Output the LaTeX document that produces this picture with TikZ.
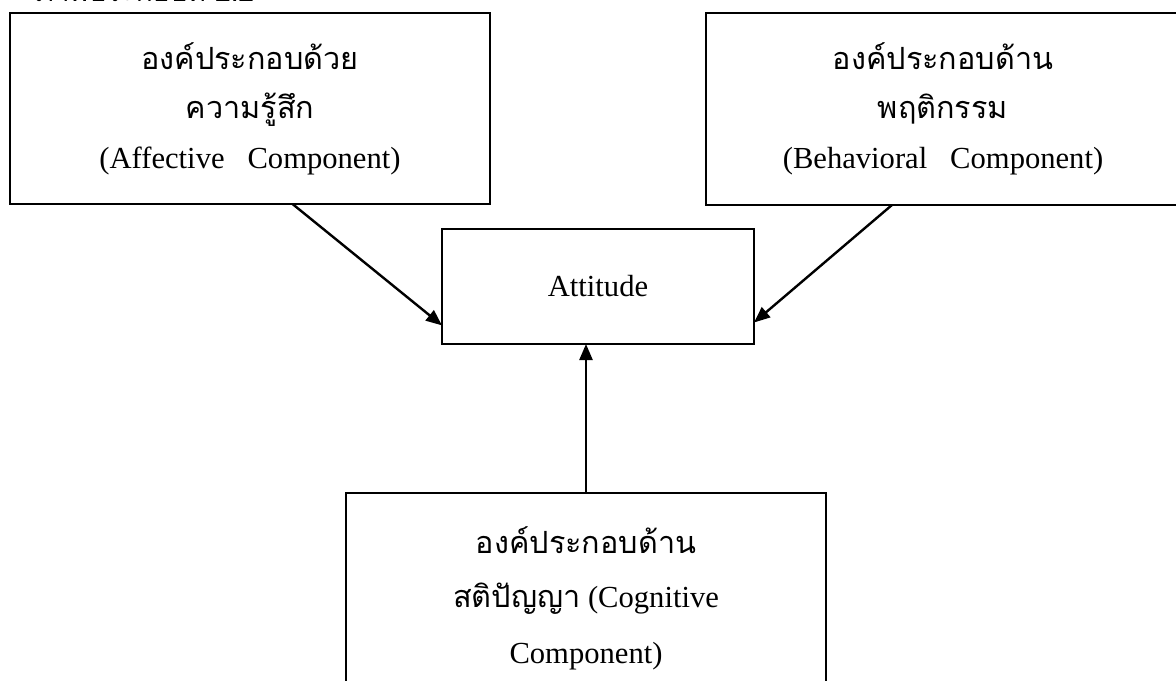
\documentclass[tikz,border=0pt]{standalone}
\usepackage{fontspec}
\setmainfont{Liberation Serif}
\newfontfamily\thai[Script=Thai]{Loma}
\usetikzlibrary{arrows.meta}
\begin{document}
\begin{tikzpicture}[x=0.5pt,y=-0.5pt,
  box/.style={draw,line width=1pt,inner sep=0pt,outer sep=0pt,align=center,
    font=\fontsize{15.3}{25}\selectfont},
  arr/.style={line width=1.2pt,-{Triangle[length=8pt,width=6.5pt]}}]
\useasboundingbox (0,0) rectangle (1176,680);
\node[anchor=base west,inner sep=0pt,font=\thai\fontsize{14}{16}\selectfont] (cap) at (35,2) {ภาพประกอบที่ 2.2};
\node[box,minimum width=240pt,minimum height=95.5pt] (aff) at (250,108.5)
  {{\thai องค์ประกอบด้วย}\\[-0.5pt]{\thai ความรู้สึก}\\(Affective\ \ \ Component)};
\node[box,minimum width=237pt,minimum height=96pt] (beh) at (943,109)
  {{\thai องค์ประกอบด้าน}\\[-0.5pt]{\thai พฤติกรรม}\\(Behavioral\ \ \ Component)};
\node[box,minimum width=156pt,minimum height=57.5pt] (att) at (598,286.5) {Attitude};
\node[box,minimum width=240pt,minimum height=105pt] (cog) at (586,598)
  {{\thai องค์ประกอบด้าน}\\[2pt]{\thai สติปัญญา} (Cognitive\\[3pt]Component)};
\draw[arr] (aff.-66.3) -- (att.-166.8);
\draw[arr] (beh.-118.9) -- (att.-13.5);
\draw[arr] (cog.north) -- (cog.north |- att.south);
\end{tikzpicture}
\end{document}
